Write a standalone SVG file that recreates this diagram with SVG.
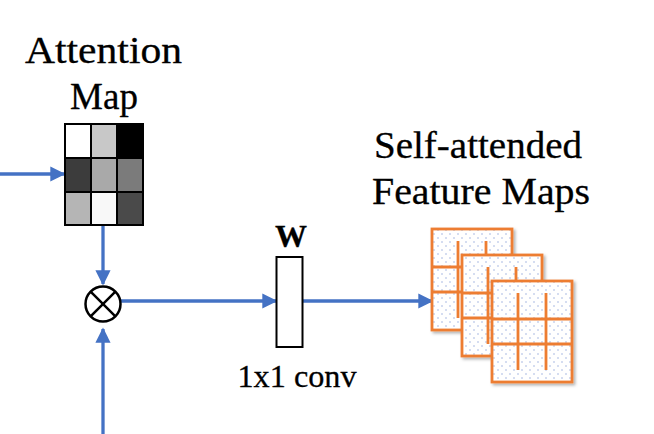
<svg xmlns="http://www.w3.org/2000/svg" width="654" height="434" viewBox="0 0 654 434">
<style>
.lbl{font-family:"Liberation Serif","Times New Roman",serif;fill:#000;stroke:#000;stroke-width:0.3;}
.conn{stroke:#4472C4;stroke-width:3.3;fill:none;}
.sheet{fill:url(#dots);stroke:#ED7D31;stroke-width:2.8;}
.grid{stroke:#ED7D31;stroke-width:2.8;}
.cell{stroke:#000;stroke-width:2;}
</style>
<defs>
<marker id="arr" viewBox="0 0 10 10" refX="9" refY="5" markerWidth="4.6" markerHeight="4.6" orient="auto" markerUnits="strokeWidth">
<path d="M0,0 L10,5 L0,10 Z" fill="#4472C4"/>
</marker>
<pattern id="dots" width="8" height="8" patternUnits="userSpaceOnUse">
<rect width="8" height="8" fill="#ffffff"/>
<circle cx="2" cy="2" r="0.8" fill="#9fb3e0"/>
<circle cx="6" cy="6" r="0.8" fill="#9fb3e0"/>
</pattern>
<filter id="sh" x="-20%" y="-20%" width="150%" height="150%">
<feDropShadow dx="2" dy="2" stdDeviation="1.5" flood-color="#000" flood-opacity="0.3"/>
</filter>
</defs>

<g id="connectors">
<line class="conn" x1="0" y1="174" x2="64" y2="174" marker-end="url(#arr)"/>
<line class="conn" x1="103" y1="225" x2="103" y2="284" marker-end="url(#arr)"/>
<line class="conn" x1="103" y1="434" x2="103" y2="329" marker-end="url(#arr)"/>
<line class="conn" x1="121" y1="301" x2="276" y2="301" marker-end="url(#arr)"/>
<line class="conn" x1="303" y1="301" x2="432" y2="301" marker-end="url(#arr)"/>
</g>

<g id="attention-map">
<text class="lbl" x="103.5" y="63" font-size="37" text-anchor="middle" textLength="157" lengthAdjust="spacingAndGlyphs">Attention</text>
<text class="lbl" x="104" y="109" font-size="37" text-anchor="middle">Map</text>
<rect class="cell" x="65" y="124" width="26" height="34" fill="#ffffff"/>
<rect class="cell" x="91" y="124" width="26" height="34" fill="#c8c8c8"/>
<rect class="cell" x="117" y="124" width="26" height="34" fill="#000000"/>
<rect class="cell" x="65" y="158" width="26" height="34" fill="#3c3c3c"/>
<rect class="cell" x="91" y="158" width="26" height="34" fill="#a9a9a9"/>
<rect class="cell" x="117" y="158" width="26" height="34" fill="#7b7b7b"/>
<rect class="cell" x="65" y="192" width="26" height="33" fill="#b5b5b5"/>
<rect class="cell" x="91" y="192" width="26" height="33" fill="#f8f8f8"/>
<rect class="cell" x="117" y="192" width="26" height="33" fill="#4a4a4a"/>
</g>

<g id="multiply">
<circle cx="103" cy="304" r="17.5" fill="#fff" stroke="#000" stroke-width="2.5"/>
<line x1="90.6" y1="291.6" x2="115.4" y2="316.4" stroke="#000" stroke-width="2.5"/>
<line x1="115.4" y1="291.6" x2="90.6" y2="316.4" stroke="#000" stroke-width="2.5"/>
</g>

<g id="conv">
<text class="lbl" x="291" y="247" font-size="32" font-weight="bold" text-anchor="middle" textLength="32" lengthAdjust="spacingAndGlyphs">W</text>
<rect x="276.5" y="257" width="26" height="90" fill="#fff" stroke="#000" stroke-width="2"/>
<text class="lbl" x="297" y="387" font-size="32" text-anchor="middle" textLength="119" lengthAdjust="spacingAndGlyphs">1x1 conv</text>
</g>

<g id="feature-maps">
<text class="lbl" x="478" y="158" font-size="37" text-anchor="middle" textLength="208" lengthAdjust="spacingAndGlyphs">Self-attended</text>
<text class="lbl" x="481" y="204" font-size="37" text-anchor="middle" textLength="218" lengthAdjust="spacingAndGlyphs">Feature Maps</text>
<g filter="url(#sh)">
<rect class="sheet" x="432" y="229" width="80" height="101"/>
<line class="grid" x1="432" y1="267" x2="512" y2="267"/>
<line class="grid" x1="432" y1="292" x2="512" y2="292"/>
<line class="grid" x1="458" y1="241" x2="458" y2="318"/>
<line class="grid" x1="486" y1="241" x2="486" y2="318"/>
</g>
<g filter="url(#sh)">
<rect class="sheet" x="462" y="255" width="80" height="101"/>
<line class="grid" x1="462" y1="293" x2="542" y2="293"/>
<line class="grid" x1="462" y1="318" x2="542" y2="318"/>
<line class="grid" x1="488" y1="267" x2="488" y2="344"/>
<line class="grid" x1="516" y1="267" x2="516" y2="344"/>
</g>
<g filter="url(#sh)">
<rect class="sheet" x="492" y="281" width="80" height="101"/>
<line class="grid" x1="492" y1="319" x2="572" y2="319"/>
<line class="grid" x1="492" y1="344" x2="572" y2="344"/>
<line class="grid" x1="518" y1="293" x2="518" y2="370"/>
<line class="grid" x1="546" y1="293" x2="546" y2="370"/>
</g>
</g>
</svg>
